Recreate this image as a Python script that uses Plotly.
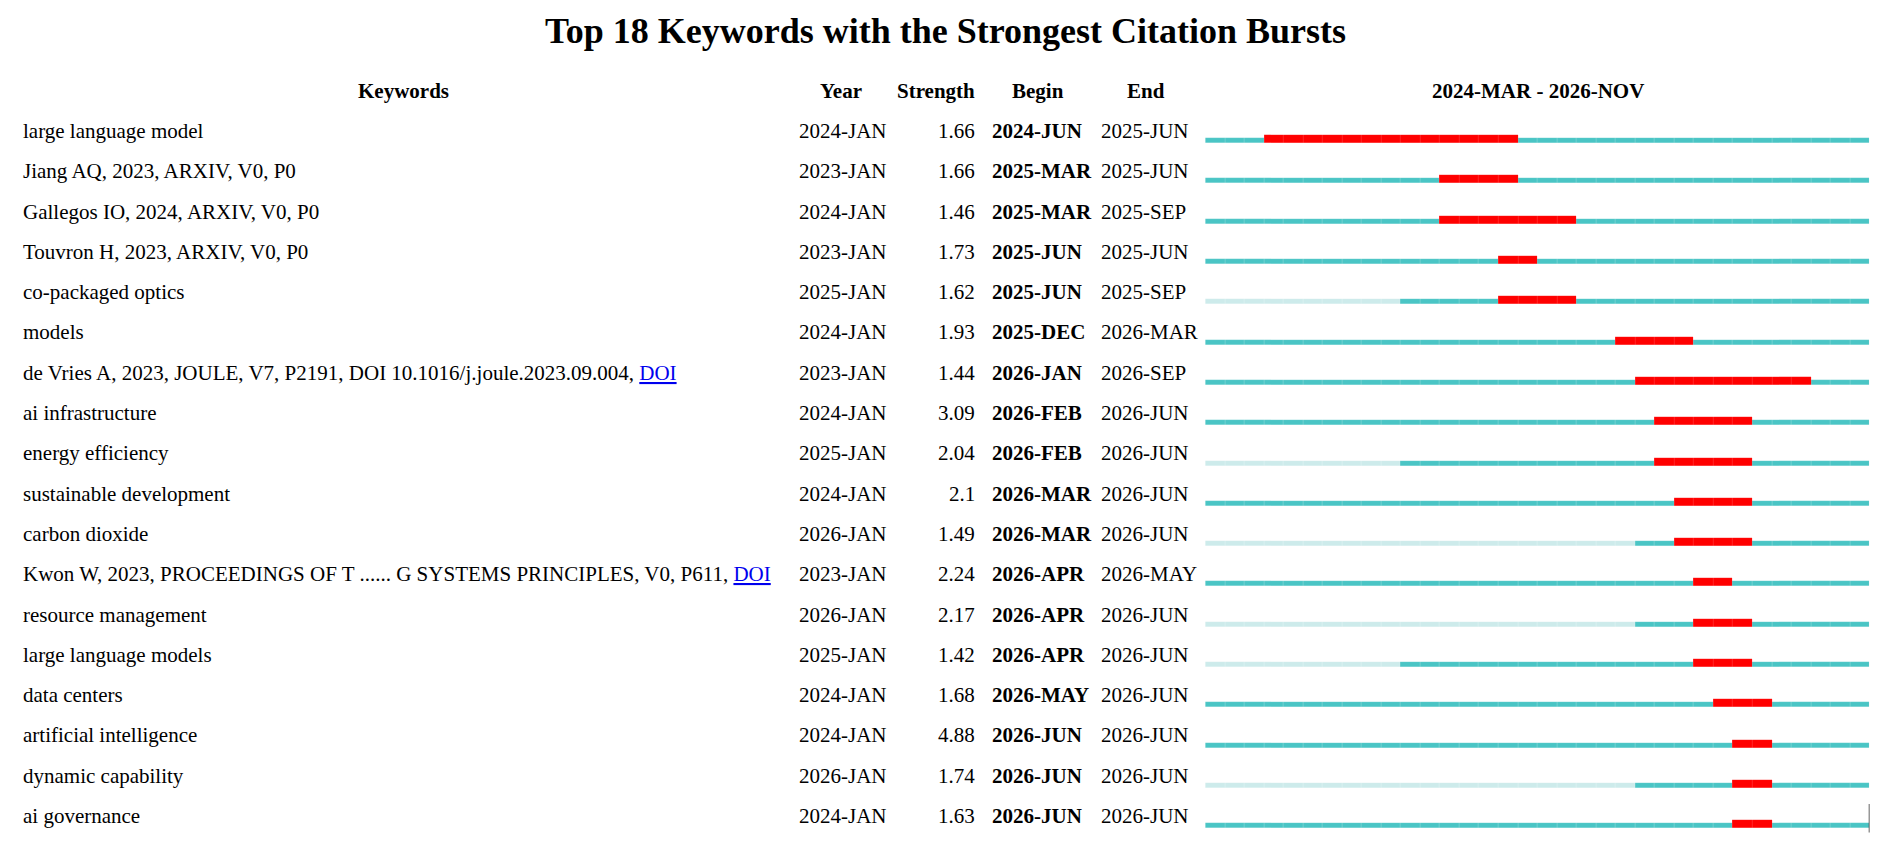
import plotly.graph_objects as go

# ---------------- data ----------------
title_text = "Top 18 Keywords with the Strongest Citation Bursts"
col_headers = ["Keywords", "Year", "Strength", "Begin", "End", "2024-MAR - 2026-NOV"]

keywords = [
    "large language model",
    "Jiang AQ, 2023, ARXIV, V0, P0",
    "Gallegos IO, 2024, ARXIV, V0, P0",
    "Touvron H, 2023, ARXIV, V0, P0",
    "co-packaged optics",
    "models",
    "de Vries A, 2023, JOULE, V7, P2191, DOI 10.1016/j.joule.2023.09.004,",
    "ai infrastructure",
    "energy efficiency",
    "sustainable development",
    "carbon dioxide",
    "Kwon W, 2023, PROCEEDINGS OF T ...... G SYSTEMS PRINCIPLES, V0, P611,",
    "resource management",
    "large language models",
    "data centers",
    "artificial intelligence",
    "dynamic capability",
    "ai governance",
]
has_doi = [False, False, False, False, False, False, True, False, False,
           False, False, True, False, False, False, False, False, False]
years = ["2024-JAN", "2023-JAN", "2024-JAN", "2023-JAN", "2025-JAN", "2024-JAN",
         "2023-JAN", "2024-JAN", "2025-JAN", "2024-JAN", "2026-JAN", "2023-JAN",
         "2026-JAN", "2025-JAN", "2024-JAN", "2024-JAN", "2026-JAN", "2024-JAN"]
strengths = ["1.66", "1.66", "1.46", "1.73", "1.62", "1.93", "1.44", "3.09", "2.04",
             "2.1", "1.49", "2.24", "2.17", "1.42", "1.68", "4.88", "1.74", "1.63"]
begins = ["2024-JUN", "2025-MAR", "2025-MAR", "2025-JUN", "2025-JUN", "2025-DEC",
          "2026-JAN", "2026-FEB", "2026-FEB", "2026-MAR", "2026-MAR", "2026-APR",
          "2026-APR", "2026-APR", "2026-MAY", "2026-JUN", "2026-JUN", "2026-JUN"]
ends = ["2025-JUN", "2025-JUN", "2025-SEP", "2025-JUN", "2025-SEP", "2026-MAR",
        "2026-SEP", "2026-JUN", "2026-JUN", "2026-JUN", "2026-JUN", "2026-MAY",
        "2026-JUN", "2026-JUN", "2026-JUN", "2026-JUN", "2026-JUN", "2026-JUN"]
# number of red monthly slices drawn for each burst
burst_slices = [13, 4, 7, 2, 4, 4, 9, 5, 5, 4, 4, 2, 3, 3, 3, 2, 2, 2]

timeline_start = "2024-MAR"
n_slices = 34

MONTHS = ["JAN", "FEB", "MAR", "APR", "MAY", "JUN", "JUL", "AUG", "SEP", "OCT", "NOV", "DEC"]


def month_index(label):
    y, m = label.split("-")
    y0, m0 = timeline_start.split("-")
    return (int(y) - int(y0)) * 12 + MONTHS.index(m) - MONTHS.index(m0)


# ---------------- styling ----------------
FONT = "Liberation Serif"
FS = 21
TEAL = "#4AC5C5"
PALE = "#CDEBEB"
RED = "#FF0000"

W, H = 1890, 861
ROW_PX = 40.3          # pixel spacing between rows
ROW0_PX = 140.65       # pixel centre of first teal line
TEAL_W = 5 / ROW_PX
RED_W = 8 / ROW_PX
y_top = -ROW0_PX / ROW_PX
y_bot = (H - ROW0_PX) / ROW_PX

n_rows = len(keywords)
rows = list(range(n_rows))

pale_y, pale_b = [], []
teal_y, teal_b = [], []
red_y, red_b = [], []
for r in rows:
    yi = month_index(years[r])
    bi = month_index(begins[r])
    for k in range(n_slices):
        if bi <= k < bi + burst_slices[r]:
            red_y.append(r); red_b.append(k)
        elif k < yi:
            pale_y.append(r); pale_b.append(k)
        else:
            teal_y.append(r); teal_b.append(k)

fig = go.Figure()


def seg_trace(ys, bases, color, width, offset, line_color):
    return go.Bar(
        orientation="h", y=ys, x=[1] * len(ys), base=bases,
        width=width, offset=offset,
        marker=dict(color=color, line=dict(color=line_color, width=0.4)),
        hoverinfo="skip", showlegend=False,
    )


fig.add_trace(seg_trace(pale_y, pale_b, PALE, TEAL_W, -TEAL_W / 2, "rgba(255,255,255,0.35)"))
fig.add_trace(seg_trace(teal_y, teal_b, TEAL, TEAL_W, -TEAL_W / 2, "rgba(255,255,255,0.25)"))
fig.add_trace(seg_trace(red_y, red_b, RED, RED_W, TEAL_W / 2 - RED_W, "rgba(255,255,255,0.12)"))

# small dark end mark at the right end of the last line
fig.add_trace(go.Scatter(
    x=[n_slices, n_slices], y=[n_rows - 1 - 0.54, n_rows - 1 + 0.17],
    mode="lines", line=dict(color="#333333", width=1.5),
    hoverinfo="skip", showlegend=False,
))

ann = []
TXT_DY = -0.24


def px(x):
    return x / W


# title
ann.append(dict(text="<b>" + title_text + "</b>", x=0.5, xanchor="center",
                y=(31 - ROW0_PX) / ROW_PX, yanchor="middle",
                font=dict(family=FONT, size=36, color="black")))

# headers
hdr_y = -1 + TXT_DY
hdr_pos = [(403, "center"), (841, "center"), (977, "right"), (1038, "center"),
           (1146, "center"), (1537.5, "center")]
for h, (x, anc) in zip(col_headers, hdr_pos):
    ann.append(dict(text="<b>" + h + "</b>", x=px(x), xanchor=anc, y=hdr_y,
                    yanchor="middle", font=dict(family=FONT, size=FS, color="black")))

for r in rows:
    yy = r + TXT_DY
    kw = keywords[r]
    if has_doi[r]:
        kw = kw + " <span style='color:#0000EE'><u>DOI</u></span>"
    ann.append(dict(text=kw, x=px(21), xanchor="left", y=yy, yanchor="middle",
                    font=dict(family=FONT, size=FS, color="black")))
    ann.append(dict(text=years[r], x=px(797), xanchor="left", y=yy, yanchor="middle",
                    font=dict(family=FONT, size=FS, color="black")))
    ann.append(dict(text=strengths[r], x=px(977), xanchor="right", y=yy, yanchor="middle",
                    font=dict(family=FONT, size=FS, color="black")))
    ann.append(dict(text="<b>" + begins[r] + "</b>", x=px(990), xanchor="left", y=yy,
                    yanchor="middle", font=dict(family=FONT, size=FS, color="black")))
    ann.append(dict(text=ends[r], x=px(1099), xanchor="left", y=yy, yanchor="middle",
                    font=dict(family=FONT, size=FS, color="black")))

for a in ann:
    a.update(xref="paper", yref="y", showarrow=False)

fig.update_layout(
    width=W, height=H,
    margin=dict(l=0, r=0, t=0, b=0),
    paper_bgcolor="white", plot_bgcolor="white",
    barmode="overlay", bargap=0,
    annotations=ann,
    xaxis=dict(domain=[1205.3 / W, 1869.5 / W], range=[0, n_slices],
               visible=False, fixedrange=True),
    yaxis=dict(domain=[0, 1], range=[y_bot, y_top], visible=False, fixedrange=True),
    font=dict(family=FONT),
)

fig.write_html("out.html", config={"displayModeBar": False},
               post_script="document.body.style.margin='0';document.body.style.overflow='hidden';")
